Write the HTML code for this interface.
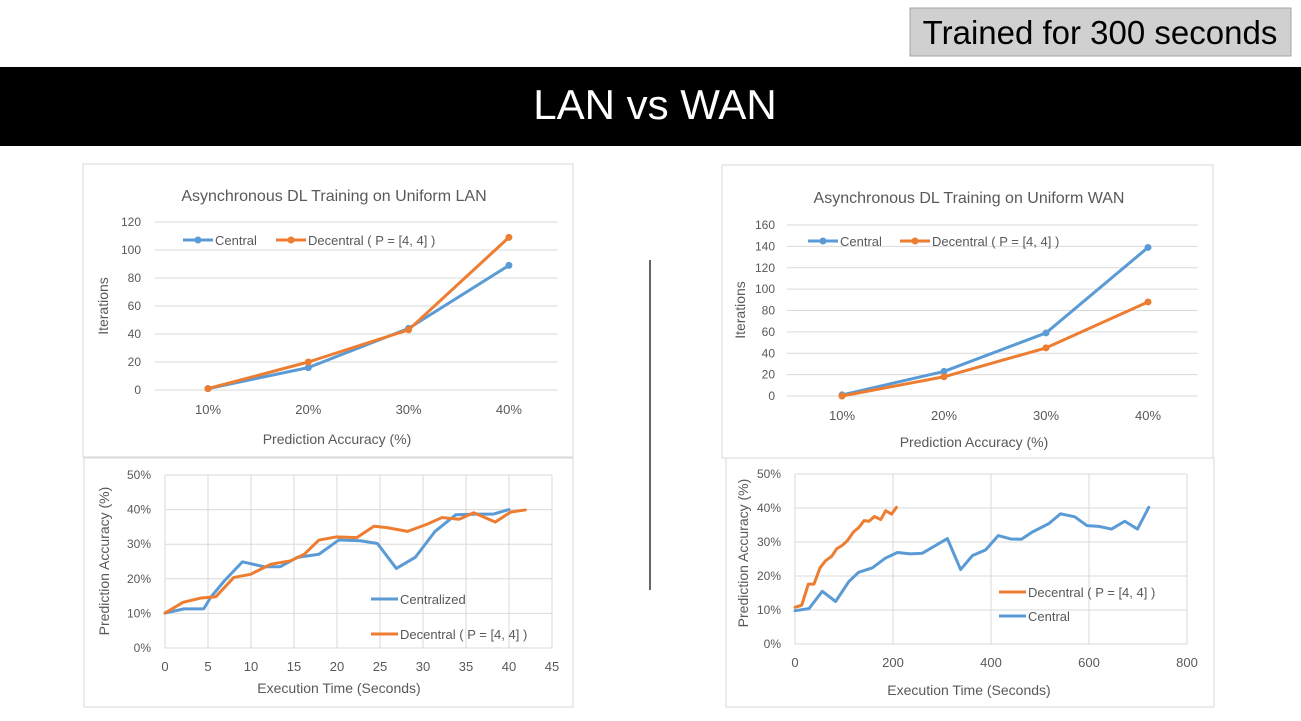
<!DOCTYPE html>
<html><head><meta charset="utf-8"><style>
html,body{margin:0;padding:0;background:#fff;}
svg{display:block;font-family:"Liberation Sans",sans-serif;}
</style></head><body>
<svg id="s" width="1301" height="721" viewBox="0 0 1301 721" xmlns="http://www.w3.org/2000/svg">
<rect x="910" y="8" width="381" height="48" fill="#d0d0d0" stroke="#a6a6a6"/>
<text x="1100" y="44" font-size="33" text-anchor="middle" fill="#000">Trained for 300 seconds</text>
<rect x="0" y="67" width="1301" height="79" fill="#000"/>
<text x="655" y="119" font-size="42" text-anchor="middle" fill="#fff">LAN vs WAN</text>
<line x1="650" y1="260" x2="650" y2="590" stroke="#000" stroke-width="1.2"/>
<g id="g"></g>
</svg>
<script>
// LAN iterations
const catLabels=["10%","20%","30%","40%"];
const lanCentral=[1,16,44,89];
const lanDecentral=[1,20,43,109];
const lanTicks=[0,20,40,60,80,100,120];
// WAN iterations
const wanCentral=[1,23,59,139];
const wanDecentral=[0,18,45,88];
const wanTicks=[0,20,40,60,80,100,120,140,160];
// LAN accuracy over time
const lanCentT=[0,2.2,4.5,5.3,6.9,9,11.5,13.4,15.4,17.9,20.2,22.7,24.7,26.9,29.1,31.4,33.8,36.1,38.2,40];
const lanCentA=[10.1,11.3,11.3,14.6,19.4,24.9,23.5,23.5,26.2,27.1,31.2,31,30.2,23,26.2,33.7,38.5,38.7,38.7,40];
const lanDecT=[0,2.1,4.1,5.9,8,9.95,12.3,14.6,16.2,17.9,19.9,22.3,24.3,25.8,28.2,30.5,32.2,34.2,35.9,38.4,40.2,41.9];
const lanDecA=[10.1,13.2,14.4,14.8,20.4,21.3,24.2,25.2,27.1,31.2,32.1,31.9,35.2,34.8,33.7,35.8,37.7,37.2,39.1,36.4,39.3,39.9];
const lanTimeTicks=[0,5,10,15,20,25,30,35,40,45];
// WAN accuracy over time
const wanCentT=[0,28.5,55.7,82.9,110,130,158,185,209,236,260,280,311,338,362,389,415,440,462,484,518,542,571,596,620,646,673,699,722];
const wanCentA=[9.8,10.4,15.5,12.5,18.4,21.1,22.4,25.3,26.9,26.5,26.7,28.4,31,21.9,26,27.7,31.9,30.9,30.8,32.9,35.4,38.3,37.4,34.8,34.6,33.8,36.1,33.8,40.2];
const wanDecT=[0,13.6,27.2,38.7,51,62.5,74.8,85,96.5,107,119,130.5,141,151,162,175,185,197,207];
const wanDecA=[10.8,11.4,17.6,17.6,22.4,24.5,25.8,28,29,30.4,32.9,34.3,36.3,36.1,37.5,36.6,39.2,38.2,40.2];
const wanTimeTicks=[0,200,400,600,800];
const pctTicks=[0,10,20,30,40,50];

const NS="http://www.w3.org/2000/svg", G=document.getElementById('g');
const BLUE="#5b9bd5", ORANGE="#ed7d31", GRID="#d9d9d9", TXT="#595959";
function el(t,a,txt){const e=document.createElementNS(NS,t);for(const k in a)e.setAttribute(k,a[k]);if(txt!==undefined)e.textContent=txt;G.appendChild(e);return e;}
function txt(x,y,s,size,anchor,name,rot){const e=el('text',{x:x,y:y,'font-size':size,'text-anchor':anchor,fill:TXT},s);


if(rot)e.setAttribute('transform','rotate(-90 '+x+' '+y+')');return e;}
function poly(pts,color,name){const e=el('polyline',{points:pts.map(p=>p.join(',')).join(' '),fill:'none',stroke:color,'stroke-width':3,'stroke-linejoin':'round','stroke-linecap':'round'});

}
function box(x,y,w,h,name){const e=el('rect',{x:x,y:y,width:w,height:h,fill:'#fff',stroke:'#d9d9d9'});

}

function catChart(o){
  box(o.bx,o.by,o.bw,o.bh,o.name+'-frame');
  const ys=v=>o.y0+(o.y1-o.y0)*v/o.ticks[o.ticks.length-1];
  o.ticks.forEach(t=>{const l=el('line',{x1:o.gx0,x2:o.gx1,y1:ys(t),y2:ys(t),stroke:GRID,'stroke-width':1});
    
    
    txt(o.lx,ys(t)+4,String(t),12,'end','y-tick-label');});
  const xs=i=>o.cx0+i*o.cdx;
  catLabels.forEach((c,i)=>txt(xs(i),o.y0+24,c,13,'middle','x-tick-label'));
  [[o.central,BLUE,'central'],[o.decentral,ORANGE,'decentral']].forEach(([d,c,n])=>{
    poly(d.map((v,i)=>[xs(i),ys(v)]),c,n+'-line');
    d.forEach((v,i)=>{const m=el('circle',{cx:xs(i),cy:ys(v),r:3.5,fill:c});
      
      });
  });
  txt(o.tx,o.ty,o.title,16,'middle','chart-title');
  txt(o.xtx,o.xty,'Prediction Accuracy (%)',14,'middle','x-axis-title');
  txt(o.ytx,o.yty,'Iterations',14,'middle','y-axis-title',true);
  [[o.leg1,BLUE,'Central'],[o.leg2,ORANGE,'Decentral ( P = [4, 4] )']].forEach(([x,c,s])=>{
    const l=el('line',{x1:x,x2:x+30,y1:o.legy,y2:o.legy,stroke:c,'stroke-width':3});
    
    
    const m=el('circle',{cx:x+15,cy:o.legy,r:3.5,fill:c});
    
    
    txt(x+32,o.legy+5,s,13,'start','legend-entry');});
}
catChart({name:'lan-iterations',bx:83,by:164,bw:490,bh:293,y0:390,y1:222,ticks:lanTicks,gx0:155,gx1:558,lx:141,cx0:208,cdx:100.3,
  central:lanCentral,decentral:lanDecentral,title:'Asynchronous DL Training on Uniform LAN',tx:334,ty:201,xtx:337,xty:444,ytx:108,yty:306,leg1:183,leg2:276,legy:240});
catChart({name:'wan-iterations',bx:722,by:165,bw:491,bh:293,y0:396,y1:225,ticks:wanTicks,gx0:787,gx1:1198,lx:775,cx0:842,cdx:102,
  central:wanCentral,decentral:wanDecentral,title:'Asynchronous DL Training on Uniform WAN',tx:969,ty:203,xtx:974,xty:447,ytx:745,yty:310,leg1:808,leg2:900,legy:241});

function timeChart(o){
  box(o.bx,o.by,o.bw,o.bh,o.name+'-frame');
  const tmax=o.tt[o.tt.length-1];
  const xs=t=>o.x0+(o.x1-o.x0)*t/tmax, ys=v=>o.y0+(o.y1-o.y0)*v/50;
  pctTicks.forEach(t=>{const l=el('line',{x1:o.x0,x2:o.x1,y1:ys(t),y2:ys(t),stroke:GRID,'stroke-width':1});
    
    
    txt(o.x0-14,ys(t)+4,t+'%',12,'end','y-tick-label');});
  o.tt.forEach(t=>{const l=el('line',{x1:xs(t),x2:xs(t),y1:o.y1,y2:o.y0,stroke:GRID,'stroke-width':1});
    
    
    txt(xs(t),o.y0+23,String(t),13,'middle','x-tick-label');});
  o.series.forEach(s=>poly(s.t.map((t,i)=>[xs(t),ys(s.a[i])]),s.c,s.n));
  o.legend.forEach(l=>{const e=el('line',{x1:l.x,x2:l.x+27,y1:l.y,y2:l.y,stroke:l.c,'stroke-width':3});
    
    
    txt(l.x+29,l.y+5,l.s,13,'start','legend-entry');});
  txt(o.xtx,o.xty,'Execution Time (Seconds)',14,'middle','x-axis-title');
  txt(o.ytx,o.yty,'Prediction Accuracy (%)',14,'middle','y-axis-title',true);
}
timeChart({name:'lan-accuracy',bx:84,by:458,bw:489,bh:249,x0:165,x1:552,y0:648,y1:475,tt:lanTimeTicks,
  series:[{t:lanCentT,a:lanCentA,c:BLUE,n:'centralized-line'},{t:lanDecT,a:lanDecA,c:ORANGE,n:'decentral-line'}],
  legend:[{x:371,y:599,c:BLUE,s:'Centralized'},{x:371,y:634,c:ORANGE,s:'Decentral ( P = [4, 4] )'}],
  xtx:339,xty:693,ytx:109,yty:561});
timeChart({name:'wan-accuracy',bx:726,by:458,bw:488,bh:249,x0:795,x1:1187,y0:644,y1:474,tt:wanTimeTicks,
  series:[{t:wanCentT,a:wanCentA,c:BLUE,n:'central-line'},{t:wanDecT,a:wanDecA,c:ORANGE,n:'decentral-line'}],
  legend:[{x:999,y:592,c:ORANGE,s:'Decentral ( P = [4, 4] )'},{x:999,y:616,c:BLUE,s:'Central'}],
  xtx:969,xty:695,ytx:748,yty:553});
</script>
</body></html>
